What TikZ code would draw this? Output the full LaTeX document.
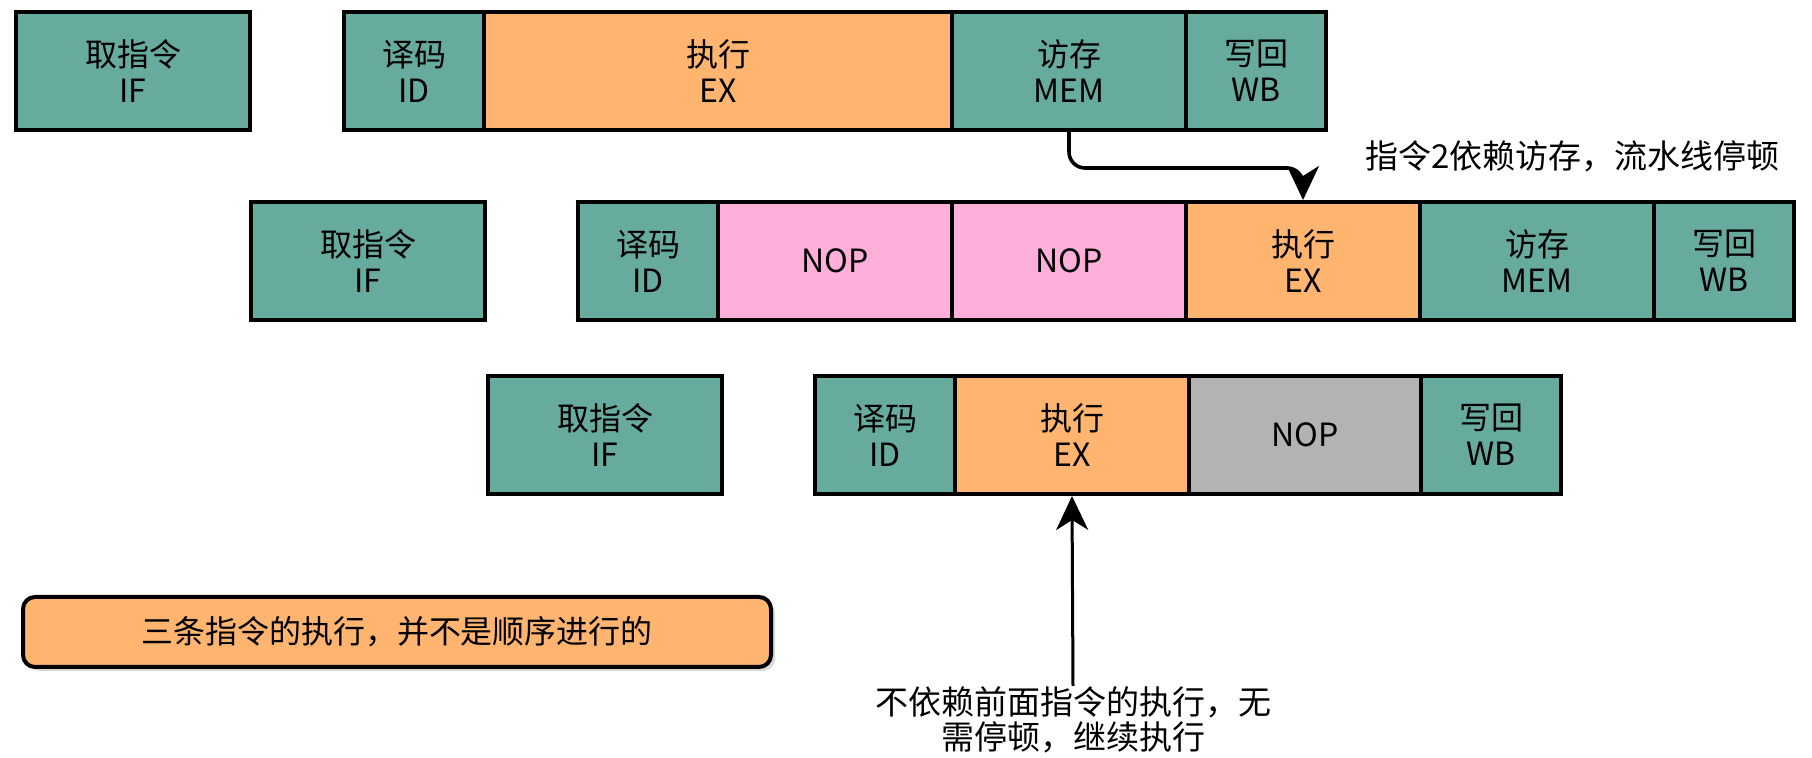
\documentclass[tikz,border=0pt]{standalone}
\usepackage{fontspec}
\setmainfont{Noto Sans CJK SC}
\usetikzlibrary{arrows.meta,shadows}
\definecolor{stgteal}{HTML}{67AB9F}
\definecolor{stgorange}{HTML}{FFB570}
\definecolor{stgpink}{HTML}{FFB0DA}
\definecolor{stggray}{HTML}{B3B3B3}
\begin{document}
\begin{tikzpicture}[x=0.5pt,y=-0.5pt,
  stg/.style={draw, line width=2pt, minimum height=59pt, inner sep=0pt, align=center,
    font=\fontsize{16}{18}\selectfont},
  tl/.style={stg, fill=stgteal},
  orng/.style={stg, fill=stgorange},
  pnk/.style={stg, fill=stgpink},
  gry/.style={stg, fill=stggray},
  note/.style={inner sep=0pt, align=center, font=\fontsize{16.5}{17.5}\selectfont},
  arr/.style={line width=1.8pt, -{Stealth[length=17pt,width=16pt,inset=5pt]}}]
\useasboundingbox (0,0) rectangle (1812,758);
% row 1
\node[tl, minimum width=117pt] (if1) at (133,71) {取指令\\IF};
\node[tl, minimum width=70pt] (id1) at (414,71) {译码\\ID};
\node[orng, minimum width=234pt] (ex1) at (718,71) {执行\\EX};
\node[tl, minimum width=117pt] (mem1) at (1069,71) {访存\\MEM};
\node[tl, minimum width=70pt] (wb1) at (1256,71) {写回\\WB};
% row 2
\node[tl, minimum width=117pt] (if2) at (368,261) {取指令\\IF};
\node[tl, minimum width=70pt] (id2) at (648,261) {译码\\ID};
\node[pnk, minimum width=117pt] (nop2a) at (835,261) {NOP};
\node[pnk, minimum width=117pt] (nop2b) at (1069,261) {NOP};
\node[orng, minimum width=117pt] (ex2) at (1303,261) {执行\\EX};
\node[tl, minimum width=117pt] (mem2) at (1537,261) {访存\\MEM};
\node[tl, minimum width=70pt] (wb2) at (1724,261) {写回\\WB};
% row 3
\node[tl, minimum width=117pt] (if3) at (605,435) {取指令\\IF};
\node[tl, minimum width=70pt] (id3) at (885,435) {译码\\ID};
\node[orng, minimum width=117pt] (ex3) at (1072,435) {执行\\EX};
\node[gry, minimum width=116pt] (nop3) at (1305,435) {NOP};
\node[tl, minimum width=70pt] (wb3) at (1491,435) {写回\\WB};
% summary
\node[draw, line width=2pt, fill=stgorange, rounded corners=6pt, minimum width=374pt,
  minimum height=35pt, font=\fontsize{16}{18}\selectfont,
  drop shadow={opacity=0.3, shadow xshift=2pt, shadow yshift=-2pt}] (sum) at (397,632)
  {三条指令的执行，并不是顺序进行的};
% notes
\node[note, anchor=east] (lbl1) at (1780,156) {指令2依赖访存，流水线停顿};
\node[note, anchor=north] (lbl2) at (1073,686) {不依赖前面指令的执行，无\\需停顿，继续执行};
% arrows
\coordinate (bend) at (1303,168);
\draw[arr, rounded corners=8pt] (mem1.south) |- (bend) -- (ex2.north);
\draw[arr, line width=1.5pt] (lbl2.north) -- (ex3.south);
\end{tikzpicture}
\end{document}
